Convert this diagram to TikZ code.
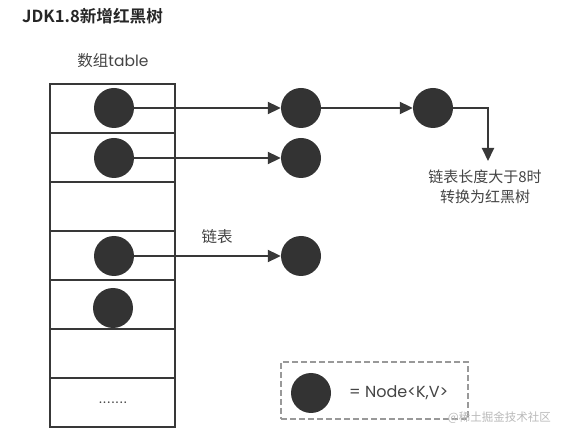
\documentclass[tikz,border=0pt]{standalone}
\usepackage{fontspec}
\setmainfont{Poppins}
\newfontfamily\cjk{Noto Sans CJK SC}[BoldFont={Noto Sans CJK SC Bold}]
\usetikzlibrary{arrows.meta}
\definecolor{dotc}{HTML}{333333}
\definecolor{linec}{HTML}{383838}
\definecolor{txtc}{HTML}{444444}
\tikzset{
  dot/.style={circle, fill=dotc, minimum size=40pt, inner sep=0pt},
  link/.style={draw=linec, line width=2pt, -{Triangle[length=13pt,width=12pt]}},
  cell/.style={draw=linec, line width=2.8pt, minimum width=125pt, minimum height=49pt, inner sep=0pt},
  lbl/.style={text=txtc, font=\cjk\fontsize{15}{20}\selectfont, inner sep=0pt, align=center},
}
\begin{document}
\begin{tikzpicture}[x=1pt,y=-1pt]
\useasboundingbox (0,0) rectangle (576,438);
% title
\node[anchor=west, inner sep=0pt, text=black!85, font=\cjk\bfseries\fontsize{16.6}{20}\selectfont] (title) at (22,16) {JDK1.8新增红黑树};
\node[inner sep=0pt, text=txtc, font=\fontsize{15.5}{18}\selectfont] (tlabel) at (113,61) {{\cjk 数组}table};
% table
\node[cell] (r1) at (112.5,108.5) {};
\node[cell] (r2) at (112.5,157.5) {};
\node[cell] (r3) at (112.5,206.5) {};
\node[cell] (r4) at (112.5,255.5) {};
\node[cell] (r5) at (112.5,304.5) {};
\node[cell] (r6) at (112.5,353.5) {};
\node[cell] (r7) at (112.5,402.5) {};
\node[text=txtc, inner sep=0pt, font=\fontsize{14}{14}\selectfont] (dots) at (113,403) {.\kern1.2pt.\kern1.2pt.\kern1.2pt.\kern1.2pt.\kern1.2pt.\kern1.2pt.};
% table entries
\node[dot] (t1) at (114,108) {};
\node[dot] (t2) at (114,158) {};
\node[dot] (t4) at (114,256) {};
\node[dot] (t5) at (113,308) {};
% chain nodes
\node[dot] (a1) at (301,108) {};
\node[dot] (a2) at (301,158) {};
\node[dot] (a4) at (301,256) {};
\node[dot] (b1) at (433,108) {};
\coordinate (tip) at (488,161);
% connectors
\draw[link] (t1.east) -- (a1.west);
\draw[link] (t2.east) -- (a2.west);
\draw[link] (t4.east) -- (a4.west);
\draw[link] (a1.east) -- (b1.west);
\draw[link] (b1.east) -| (tip);
% labels
\node[lbl] (treelbl) at (485,187) {链表长度大于8时\\转换为红黑树};
\node[lbl, font=\cjk\fontsize{15.5}{18}\selectfont] (chainlbl) at (217,237) {链表};
% legend
\node[draw=gray!80, dashed, line width=1.5pt, dash pattern=on 6pt off 3pt, minimum width=187pt, minimum height=57pt, inner sep=0pt] (legend) at (374.5,390.5) {};
\node[dot] (ldot) at (311,393) {};
\node[anchor=west, inner sep=0pt, text=txtc, font=\fontsize{16}{20}\selectfont] (ltext) at (349,393) {= Node<K,V>};
% watermark
\node[anchor=east, inner sep=0pt, text=gray!55, font=\cjk\fontsize{11.5}{14}\selectfont] (wm) at (551,418) {@稀土掘金技术社区};
\end{tikzpicture}
\end{document}
